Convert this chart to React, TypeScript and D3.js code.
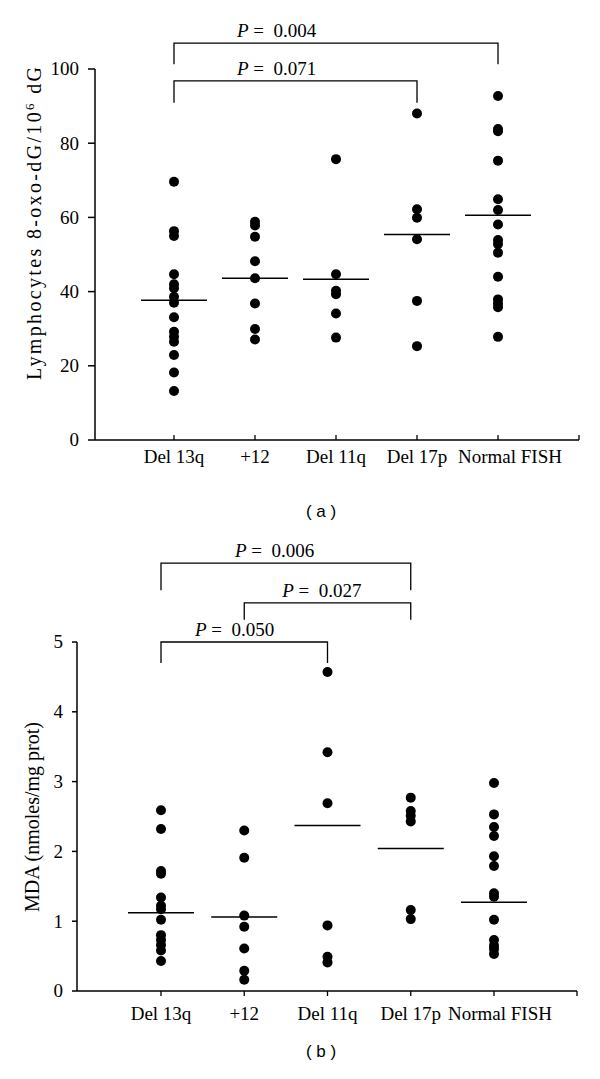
import React from "react";
import * as d3 from "d3";

const categories = ["Del 13q", "+12", "Del 11q", "Del 17p", "Normal FISH"];

// Panel (a): lymphocytes 8-oxo-dG / 10^6 dG
const aDel13q = [69.6, 56.3, 55.0, 44.7, 42.0, 40.9, 38.6, 37.0, 33.1, 29.2, 27.8, 26.5, 22.9, 18.2, 13.2];
const aPlus12 = [58.8, 57.8, 54.8, 48.2, 43.6, 36.8, 29.9, 27.1];
const aDel11q = [75.7, 44.7, 40.2, 39.3, 34.1, 27.6];
const aDel17p = [88.0, 62.2, 59.9, 54.1, 37.5, 25.3];
const aNormal = [92.7, 83.8, 83.2, 75.3, 64.9, 62.0, 58.1, 53.9, 52.8, 50.5, 44.0, 37.9, 36.8, 35.8, 27.8];
const aMedians = [37.7, 43.6, 43.3, 55.4, 60.6];
const aTicks = [0, 20, 40, 60, 80, 100];

// Panel (b): MDA (nmoles/mg prot)
const bDel13q = [2.59, 2.32, 1.72, 1.68, 1.34, 1.22, 1.17, 1.02, 0.80, 0.73, 0.66, 0.58, 0.43];
const bPlus12 = [2.30, 1.91, 1.08, 0.92, 0.61, 0.29, 0.16];
const bDel11q = [4.57, 3.42, 2.69, 0.94, 0.49, 0.41];
const bDel17p = [2.77, 2.58, 2.51, 2.43, 1.16, 1.03];
const bNormal = [2.98, 2.53, 2.35, 2.22, 1.93, 1.79, 1.40, 1.35, 1.02, 0.73, 0.65, 0.60, 0.53];
const bMedians = [1.12, 1.06, 2.37, 2.04, 1.27];
const bTicks = [0, 1, 2, 3, 4, 5];

// Significance brackets (levels in data units)
const aBrackets = [
  { from: "Del 13q", to: "Normal FISH", top: 107.0, bottom: 101.3, label: "0.004", labelDx: 63 },
  { from: "Del 13q", to: "Del 17p", top: 96.8, bottom: 90.9, label: "0.071", labelDx: 63 },
];
const bBrackets = [
  { from: "Del 13q", to: "Del 17p", top: 6.13, bottom: 5.74, label: "0.006", labelDx: 74 },
  { from: "+12", to: "Del 17p", top: 5.56, bottom: 5.32, label: "0.027", labelDx: 38 },
  { from: "Del 13q", to: "Del 11q", top: 5.0, bottom: 4.7, label: "0.050", labelDx: 34 },
];

const SERIF = "'Liberation Serif', 'Times New Roman', serif";

type Bracket = { from: string; to: string; top: number; bottom: number; label: string; labelDx: number };

function Panel(props: {
  groups: number[][];
  medians: number[];
  ticks: number[];
  yDomain: [number, number];
  yRange: [number, number];
  xRange: [number, number];
  axisX: number;
  axisEnd: number;
  tickLen: number;
  xTickDir: number;
  labelBaseline: number;
  labelDx: number[];
  brackets: Bracket[];
  yLabel: React.ReactNode;
  yLabelX: number;
  yLabelY: number;
  yLabelLen?: number;
  panelTag: string;
  tagY: number;
}) {
  const {
    groups, medians, ticks, yDomain, yRange, xRange, axisX, axisEnd, tickLen, xTickDir,
    labelBaseline, labelDx, brackets, yLabel, yLabelX, yLabelY, yLabelLen, panelTag, tagY,
  } = props;
  const y = d3.scaleLinear().domain(yDomain).range(yRange);
  const x = d3.scalePoint<string>().domain(categories).range(xRange);
  const y0 = y(yDomain[0]);
  const yTop = y(yDomain[1]);
  return (
    <g>
      {/* y axis */}
      <line x1={axisX} x2={axisX} y1={yTop} y2={y0} stroke="#000" strokeWidth={1.5} />
      {ticks.map((t) => (
        <g key={t}>
          <line x1={axisX - tickLen} x2={axisX} y1={y(t)} y2={y(t)} stroke="#000" strokeWidth={1.5} />
          <text x={axisX - tickLen - 9} y={y(t)} dy="0.34em" textAnchor="end" fontFamily={SERIF} fontSize={19}>
            {t}
          </text>
        </g>
      ))}
      {/* x axis */}
      <line x1={axisX} x2={axisEnd} y1={y0} y2={y0} stroke="#000" strokeWidth={1.5} />
      {categories.map((c) => (
        <line key={c} x1={x(c)} x2={x(c)} y1={y0} y2={y0 + xTickDir * 5} stroke="#000" strokeWidth={1.3} />
      ))}
      <line x1={axisEnd} x2={axisEnd} y1={y0} y2={y0 + xTickDir * 5} stroke="#000" strokeWidth={1.3} />
      {categories.map((c, i) => (
        <text key={c} x={(x(c) as number) + labelDx[i]} y={labelBaseline} textAnchor="middle" fontFamily={SERIF} fontSize={19}>
          {c}
        </text>
      ))}
      {/* y label */}
      <text
        transform={`translate(${yLabelX},${yLabelY}) rotate(-90)`}
        textAnchor="middle"
        fontFamily={SERIF}
        fontSize={20}
        {...(yLabelLen ? { textLength: yLabelLen, lengthAdjust: "spacing" } : {})}
      >
        {yLabel}
      </text>
      {/* points */}
      {groups.map((vals, i) =>
        vals.map((v, j) => <circle key={`${i}-${j}`} cx={x(categories[i])} cy={y(v)} r={5} fill="#000" />)
      )}
      {/* medians */}
      {medians.map((m, i) => (
        <line
          key={i}
          x1={(x(categories[i]) as number) - 33}
          x2={(x(categories[i]) as number) + 33}
          y1={y(m)}
          y2={y(m)}
          stroke="#000"
          strokeWidth={1.5}
        />
      ))}
      {/* brackets */}
      {brackets.map((b, i) => {
        const xa = x(b.from) as number;
        const xb = x(b.to) as number;
        const path = d3.path();
        path.moveTo(xa, y(b.bottom));
        path.lineTo(xa, y(b.top));
        path.lineTo(xb, y(b.top));
        path.lineTo(xb, y(b.bottom));
        return (
          <g key={i}>
            <path d={path.toString()} fill="none" stroke="#000" strokeWidth={1.3} />
            <text x={xa + b.labelDx} y={y(b.top) - 6} fontFamily={SERIF} fontSize={19}>
              <tspan fontStyle="italic">P</tspan>
              <tspan>{"\u00a0=\u00a0\u00a0" + b.label}</tspan>
            </text>
          </g>
        );
      })}
      <text x={321} y={tagY} textAnchor="middle" fontFamily="'Liberation Sans', Arial, sans-serif" fontSize={17}>
        {panelTag}
      </text>
    </g>
  );
}

export default function App() {
  return (
    <svg
      width={600}
      height={1079}
      viewBox="0 0 600 1079"
      style={{ position: "absolute", left: 0, top: 0, background: "#fff" }}
    >
      <rect width={600} height={1079} fill="#fff" />
      <Panel
        groups={[aDel13q, aPlus12, aDel11q, aDel17p, aNormal]}
        medians={aMedians}
        ticks={aTicks}
        yDomain={[0, 100]}
        yRange={[440, 69]}
        xRange={[174, 498]}
        axisX={95}
        axisEnd={579}
        tickLen={7}
        xTickDir={-1}
        labelBaseline={463}
        labelDx={[0, 0, 0, 0, 12]}
        brackets={aBrackets}
        yLabel={
          <>
            <tspan>Lymphocytes 8-oxo-dG/10</tspan>
            <tspan dy={-7} fontSize={13}>6</tspan>
            <tspan dy={7}> dG</tspan>
          </>
        }
        yLabelX={41}
        yLabelY={223.5}
        yLabelLen={313}
        panelTag="( a )"
        tagY={517}
      />
      <Panel
        groups={[bDel13q, bPlus12, bDel11q, bDel17p, bNormal]}
        medians={bMedians}
        ticks={bTicks}
        yDomain={[0, 5]}
        yRange={[991, 642]}
        xRange={[161, 494]}
        axisX={77}
        axisEnd={577}
        tickLen={5}
        xTickDir={1}
        labelBaseline={1020}
        labelDx={[0, 0, 0, 0, 6]}
        brackets={bBrackets}
        yLabel={<tspan>MDA (nmoles/mg prot)</tspan>}
        yLabelX={39}
        yLabelY={817}
        panelTag="( b )"
        tagY={1057}
      />
    </svg>
  );
}
